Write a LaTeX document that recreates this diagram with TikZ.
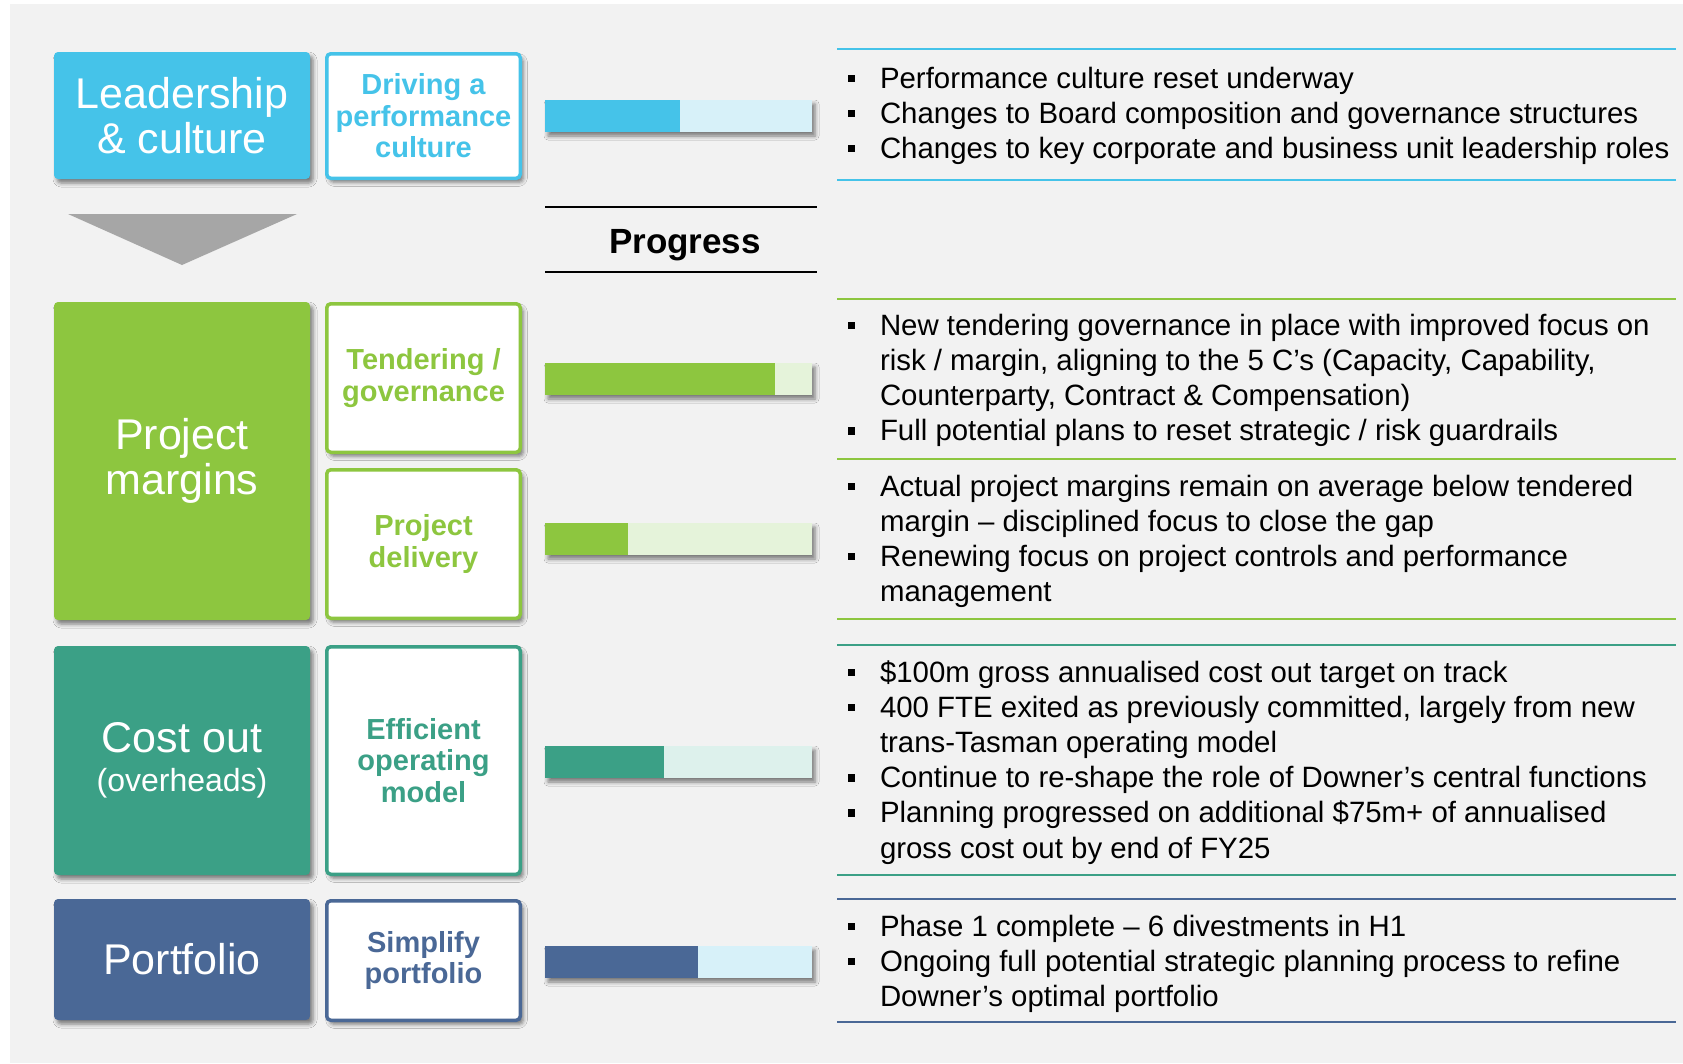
\documentclass[tikz,border=0pt]{standalone}
\usepackage{fontspec}
\setmainfont{Liberation Sans}
\usetikzlibrary{shadows.blur}
\definecolor{bgc}{HTML}{F2F2F2}
\definecolor{ccyan}{HTML}{45C3E9}
\definecolor{ccyanL}{HTML}{D7F1F9}
\definecolor{cgreen}{HTML}{8DC63F}
\definecolor{cgreenL}{HTML}{E5F3DA}
\definecolor{cteal}{HTML}{3BA086}
\definecolor{ctealL}{HTML}{DDF1EC}
\definecolor{cblue}{HTML}{4A6896}
\definecolor{cgray}{HTML}{A6A6A6}
\newcommand\bsq{\makebox[32.5pt][l]{\rule[6pt]{7.5pt}{7.5pt}}}
\newcommand\ind{\hspace*{32.5pt}}
\newcommand\bitems[1]{\vtop{\baselineskip=35.2pt #1}}
\tikzset{
  shd/.style={blur shadow={shadow xshift=3pt, shadow yshift=-4pt, shadow blur radius=4pt, shadow opacity=50}},
  mainbox/.style={rounded corners=4pt, minimum width=256pt, minimum height=#1, inner sep=0pt, outer sep=0pt, text=white, align=center, font=\fontsize{43}{45}\selectfont, shd},
  subbox/.style={draw=#1, text=#1, line width=3.5pt, fill=white, rounded corners=4pt, minimum width=193.5pt, inner sep=0pt, outer sep=0pt, align=center, font=\bfseries\fontsize{29}{31.5}\selectfont, shd},
  barbox/.style={minimum width=267pt, minimum height=32pt, inner sep=0pt, outer sep=0pt, shd},
  itemtext/.style={anchor=base west, inner sep=0pt, outer sep=0pt, font=\fontsize{29.4}{35.2}\selectfont, text=black},
  sepline/.style={draw=#1, line width=2.5pt},
}
\begin{document}
\begin{tikzpicture}[x=1pt, y=-1pt]
\useasboundingbox (0,0) rectangle (1683,1063);
\fill[white] (0,0) rectangle (1683,1063);
\fill[bgc] (10,4) rectangle (1683,1063);

% left main boxes
\node[mainbox=127pt, fill=ccyan] (lead) at (182,115.5) {Leadership\\\& culture};
\node[mainbox=318pt, fill=cgreen] (pm) at (182,461) {Project\\margins};
\node[mainbox=229pt, fill=cteal] (cost) at (182,760.5) {{\fontsize{43}{45}\selectfont Cost out}\\[-6pt]{\fontsize{32}{36}\selectfont (overheads)}};
\node[mainbox=121pt, fill=cblue] (port) at (182,959.5) {Portfolio};

% arrow triangle
\fill[cgray] (68,214) -- (297,214) -- (182,265) -- cycle;

% sub boxes
\node[subbox=ccyan, minimum height=124.5pt] (drive) at (423.5,116) {Driving a\\performance\\culture};
\node[subbox=cgreen, minimum height=148.5pt] (tend) at (423.5,378) {Tendering /\\governance};
\node[subbox=cgreen, minimum height=148.5pt] (deliv) at (423.5,544) {Project\\delivery};
\node[subbox=cteal, minimum height=227.5pt] (eff) at (423.5,760.5) {Efficient\\operating\\model};
\node[subbox=cblue, minimum height=119.5pt] (simp) at (423.5,960.5) {Simplify\\portfolio};

% progress heading
\draw[line width=2pt] (545,207) -- (817,207);
\draw[line width=2pt] (545,272) -- (817,272);
\node[anchor=base, inner sep=0pt, font=\bfseries\fontsize{35}{40}\selectfont] (prog) at (685,253) {Progress};

% progress bars
\node[barbox, fill=ccyanL] (bar1) at (678.5,116) {};
\fill[ccyan] (545,100) rectangle (680,132);
\node[barbox, fill=cgreenL] (bar2) at (678.5,379) {};
\fill[cgreen] (545,363) rectangle (775,395);
\node[barbox, fill=cgreenL] (bar3) at (678.5,539) {};
\fill[cgreen] (545,523) rectangle (628,555);
\node[barbox, fill=ctealL] (bar4) at (678.5,762) {};
\fill[cteal] (545,746) rectangle (664,778);
\node[barbox, fill=ccyanL] (bar5) at (678.5,962) {};
\fill[cblue] (545,946) rectangle (698,978);

% separator lines
\draw[sepline=ccyan] (837,49) -- (1676,49);
\draw[sepline=ccyan] (837,180) -- (1676,180);
\draw[sepline=cgreen] (837,299) -- (1676,299);
\draw[sepline=cgreen] (837,459) -- (1676,459);
\draw[sepline=cgreen] (837,619) -- (1676,619);
\draw[sepline=cteal] (837,645) -- (1676,645);
\draw[sepline=cteal] (837,875) -- (1676,875);
\draw[sepline=cblue] (837,899) -- (1676,899);
\draw[sepline=cblue] (837,1022) -- (1676,1022);

% text group 1
\node[itemtext] (t1) at (847.5,88) {\bsq Performance culture reset underway};
\node[itemtext] (t2) at (847.5,123.2) {\bsq Changes to Board composition and governance structures};
\node[itemtext] (t3) at (847.5,158.4) {\bsq Changes to key corporate and business unit leadership roles};

% text group 2
\node[itemtext] (t4) at (847.5,335) {\bitems{\hbox{\bsq New tendering governance in place with improved focus on}\hbox{\ind risk / margin, aligning to the 5 C’s (Capacity, Capability,}\hbox{\ind Counterparty, Contract \& Compensation)}}};
\node[itemtext] (t5) at (847.5,440.6) {\bsq Full potential plans to reset strategic / risk guardrails};
\node[itemtext] (t6) at (847.5,496) {\bitems{\hbox{\bsq Actual project margins remain on average below tendered}\hbox{\ind margin – disciplined focus to close the gap}}};
\node[itemtext] (t7) at (847.5,566.4) {\bitems{\hbox{\bsq Renewing focus on project controls and performance}\hbox{\ind management}}};

% text group 3
\node[itemtext] (t8) at (847.5,682) {\bsq \$100m gross annualised cost out target on track};
\node[itemtext] (t9) at (847.5,717.2) {\bitems{\hbox{\bsq 400 FTE exited as previously committed, largely from new}\hbox{\ind trans-Tasman operating model}}};
\node[itemtext] (t10) at (847.5,787.6) {\bsq Continue to re-shape the role of Downer’s central functions};
\node[itemtext] (t11) at (847.5,822.8) {\bitems{\hbox{\bsq Planning progressed on additional \$75m+ of annualised}\hbox{\ind gross cost out by end of FY25}}};

% text group 4
\node[itemtext] (t12) at (847.5,936) {\bsq Phase 1 complete – 6 divestments in H1};
\node[itemtext] (t13) at (847.5,971.2) {\bitems{\hbox{\bsq Ongoing full potential strategic planning process to refine}\hbox{\ind Downer’s optimal portfolio}}};
\end{tikzpicture}
\end{document}
